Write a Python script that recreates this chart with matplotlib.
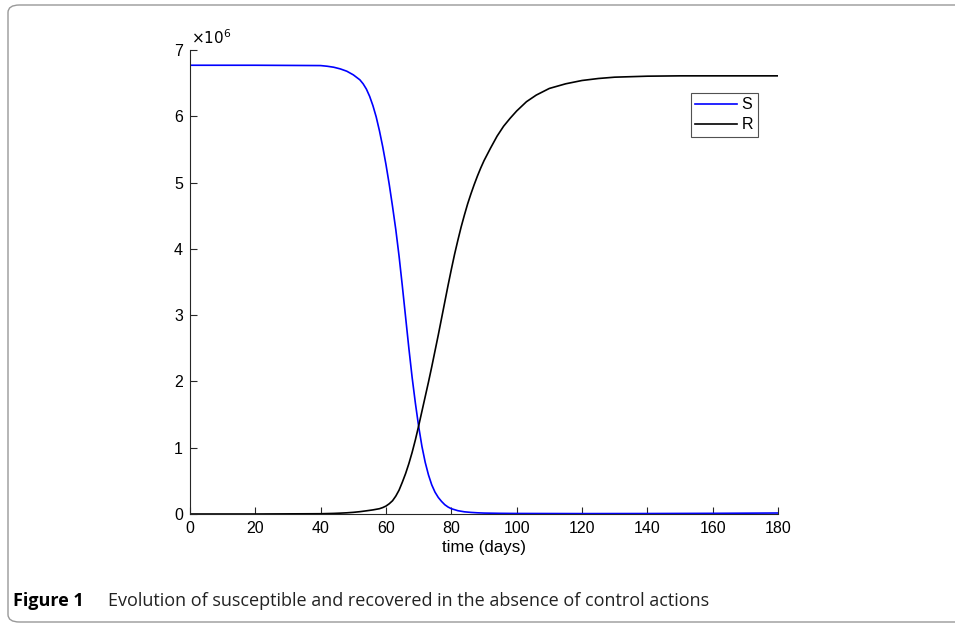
import matplotlib
matplotlib.use("Agg")
import matplotlib.pyplot as plt
from matplotlib.patches import FancyBboxPatch

plt.rcParams['font.family'] = ['Liberation Sans', 'DejaVu Sans']

# values (millions of people)
days_s = [0, 20, 40, 42, 44, 46, 48, 50, 52, 53, 54, 55, 56, 57, 58, 59, 60, 61,
          62, 63, 64, 65, 66, 67, 68, 69, 70, 71, 72, 73, 74, 75, 76, 77, 78, 79,
          80, 82, 84, 86, 88, 90, 95, 100, 120, 140, 160, 180]
susceptible = [6.77, 6.77, 6.765, 6.755, 6.74, 6.715, 6.68, 6.625, 6.55, 6.49,
               6.41, 6.30, 6.16, 5.99, 5.78, 5.54, 5.27, 4.97, 4.64, 4.29, 3.89,
               3.44, 2.97, 2.50, 2.06, 1.67, 1.32, 1.02, 0.78, 0.59, 0.44, 0.33,
               0.25, 0.19, 0.14, 0.105, 0.08, 0.05, 0.033, 0.024, 0.018, 0.014,
               0.01, 0.008, 0.006, 0.007, 0.01, 0.015]

days_r = [0, 20, 40, 44, 46, 48, 50, 52, 54, 56, 58, 59, 60, 61, 62, 63, 64, 65,
          66, 67, 68, 69, 70, 71, 72, 73, 74, 75, 76, 77, 78, 79, 80, 81, 82, 83,
          84, 85, 86, 87, 88, 89, 90, 92, 94, 96, 98, 100, 103, 106, 110, 115,
          120, 125, 130, 140, 150, 180]
recovered = [0.0, 0.0, 0.004, 0.009, 0.013, 0.018, 0.025, 0.035, 0.048, 0.062,
             0.08, 0.097, 0.12, 0.155, 0.20, 0.27, 0.36, 0.48, 0.61, 0.76, 0.93,
             1.12, 1.33, 1.55, 1.77, 1.99, 2.22, 2.46, 2.70, 2.95, 3.20, 3.45,
             3.69, 3.92, 4.13, 4.33, 4.51, 4.68, 4.83, 4.97, 5.10, 5.22, 5.33,
             5.52, 5.70, 5.85, 5.97, 6.08, 6.22, 6.32, 6.42, 6.49, 6.54, 6.57,
             6.59, 6.605, 6.61, 6.61]

fig = plt.figure(figsize=(9.55, 6.27), dpi=100)
ax = fig.add_axes([190 / 955, 1 - 514 / 627, 588 / 955, 464 / 627])

ax.plot(days_s, [v * 1e6 for v in susceptible], color='#0000ff', lw=1.2, label='S')
ax.plot(days_r, [v * 1e6 for v in recovered], color='black', lw=1.2, label='R')

ax.set_xlim(0, 180)
ax.set_ylim(0, 7e6)
ax.set_xticks(range(0, 181, 20))
ax.set_yticks([i * 1e6 for i in range(8)])
ax.set_yticklabels([str(i) for i in range(8)])
ax.tick_params(direction='in', length=5, width=0.8, labelsize=11.5, colors='#262626',
               labelcolor='black', pad=5)
for side in ['top', 'right']:
    ax.spines[side].set_visible(False)
for side in ['left', 'bottom']:
    ax.spines[side].set_color('#262626')
    ax.spines[side].set_linewidth(0.8)

ax.set_xlabel('time (days)', fontsize=12.2, labelpad=3)
ax.text(0.002, 1.006, r'$\times10^{6}$', transform=ax.transAxes, fontsize=11,
        va='bottom', ha='left')

leg = ax.legend(loc='upper right', bbox_to_anchor=(0.966, 0.908), fontsize=11.5,
                frameon=True, fancybox=False, handlelength=2.6, handletextpad=0.3,
                borderpad=0.3, labelspacing=0.3, borderaxespad=0)
leg.get_frame().set_edgecolor('#262626')
leg.get_frame().set_linewidth(0.8)

# caption and frame around the figure
fig.text(13 / 955, 1 - 601 / 627, 'Figure 1', fontsize=13, fontweight='bold',
         family='Open Sans', va='center', ha='left')
fig.text(108 / 955, 1 - 601 / 627,
         'Evolution of susceptible and recovered in the absence of control actions',
         fontsize=13, family='Open Sans', va='center', ha='left', color='#222222')
box = FancyBboxPatch((8 / 955, 5 / 627), 1.1, 1 - 10 / 627,
                     boxstyle='round,pad=0,rounding_size=0.012',
                     transform=fig.transFigure, fill=False, edgecolor='#999999',
                     lw=1.0, clip_on=False)
fig.patches.append(box)

fig.savefig('out.png', dpi=100)
